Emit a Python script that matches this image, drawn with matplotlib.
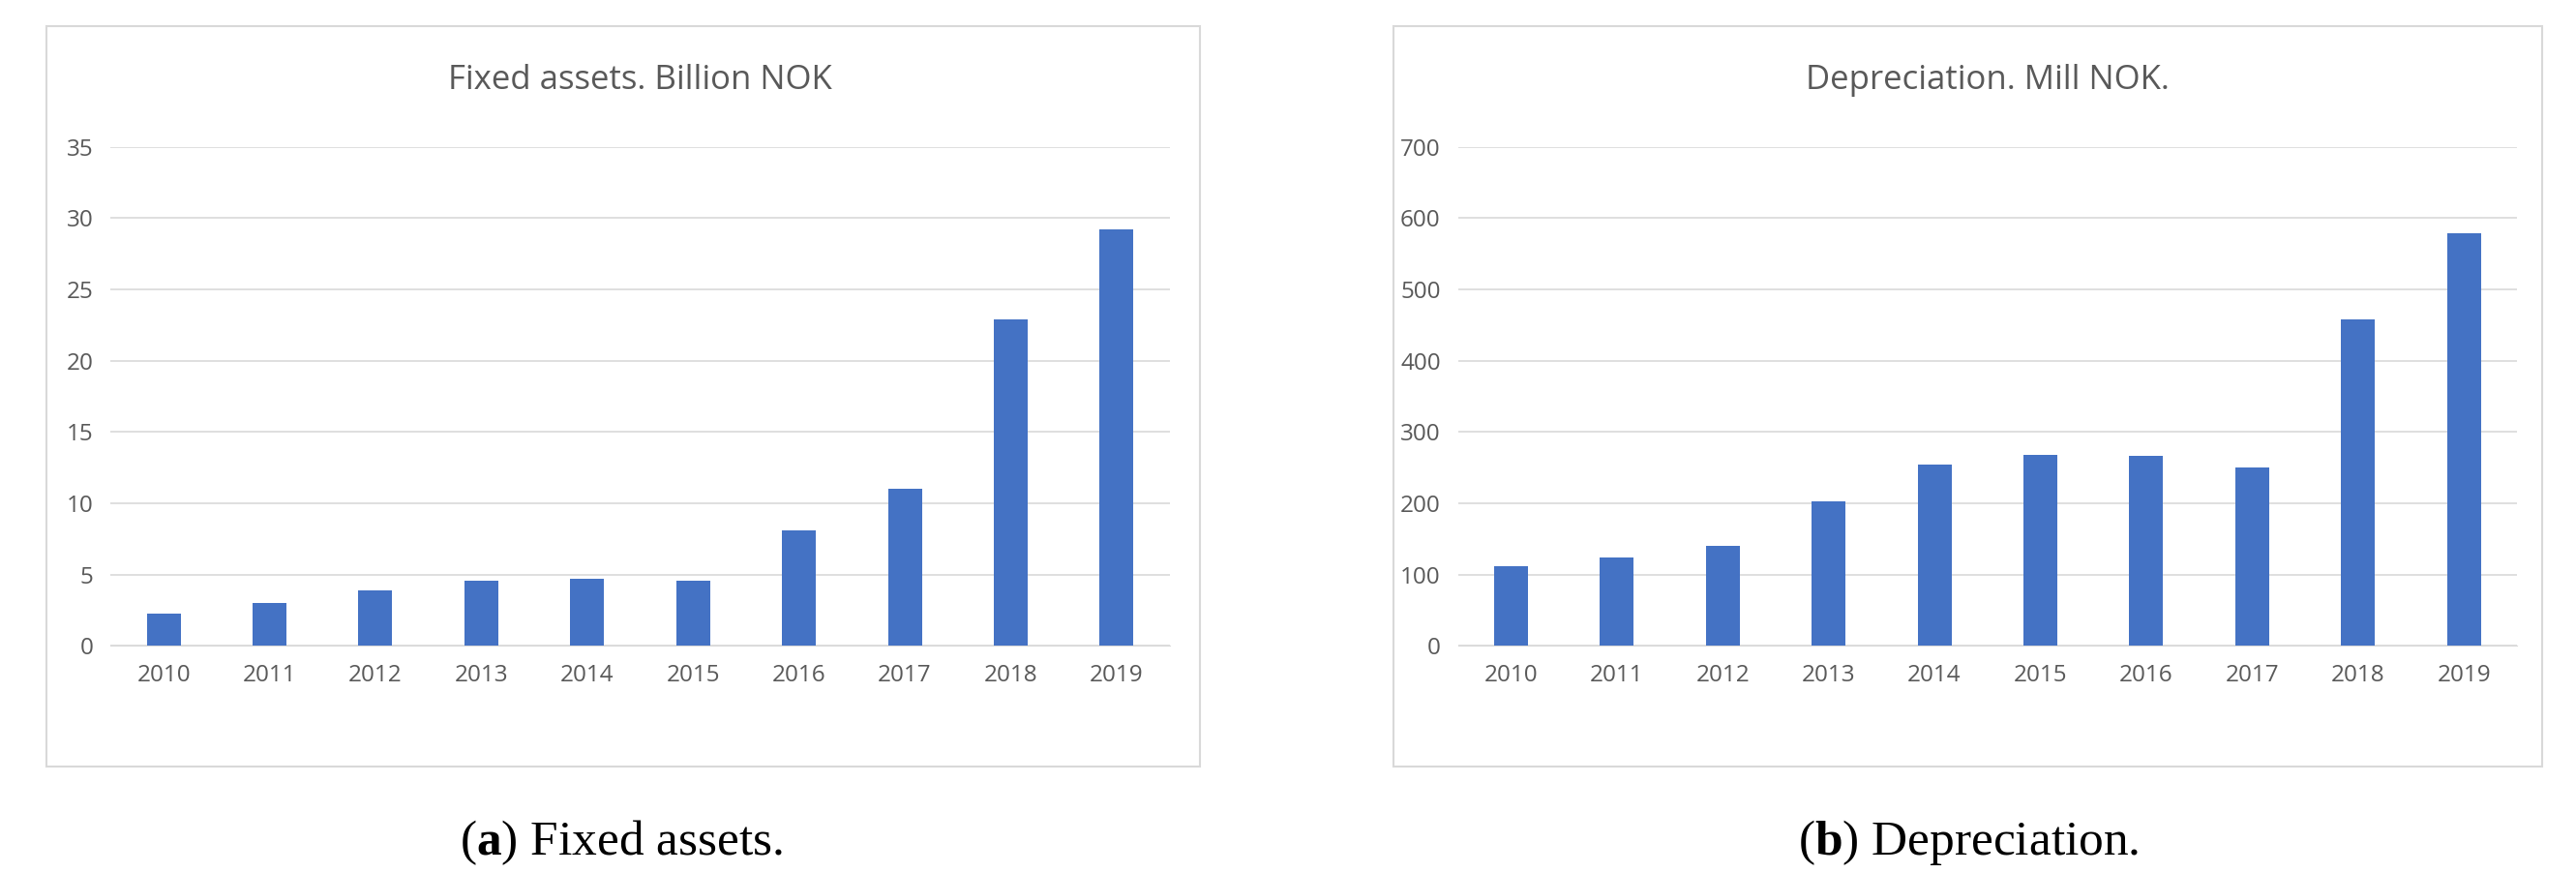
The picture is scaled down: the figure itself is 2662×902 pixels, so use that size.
import matplotlib
matplotlib.use("Agg")
import matplotlib.pyplot as plt
from matplotlib.patches import Rectangle

years = ["2010","2011","2012","2013","2014","2015","2016","2017","2018","2019"]
fixed_assets = [2.3, 3.0, 3.9, 4.6, 4.7, 4.6, 8.1, 11.0, 22.9, 29.2]
depreciation = [112, 124, 140, 203, 255, 268, 267, 250, 458, 579]

plt.rcParams['mathtext.fontset'] = 'custom'
plt.rcParams['mathtext.rm'] = 'Liberation Serif'
plt.rcParams['mathtext.bf'] = 'Liberation Serif:bold'

fig = plt.figure(figsize=(26.62, 9.02), dpi=100)
grey = "#595959"
blue = "#4472C4"

def panel(box, axpos, vals, ymax, step, title, caption, capx):
    fig.patches.append(Rectangle((box[0], box[1]), box[2], box[3], transform=fig.transFigure,
                                 fill=False, edgecolor="#D9D9D9", linewidth=1.5))
    ax = fig.add_axes(axpos)
    x = range(len(years))
    ax.bar(x, vals, width=0.32, color=blue, zorder=3)
    ax.set_xticks(list(x))
    ax.set_xticklabels(years)
    ax.set_xlim(-0.5, len(years) - 0.5)
    ax.set_ylim(0, ymax)
    ax.set_yticks(range(0, ymax + 1, step))
    ax.grid(axis="y", color="#D9D9D9", linewidth=1.2, zorder=0)
    for s in ["top", "right", "left"]:
        ax.spines[s].set_visible(False)
    ax.spines["bottom"].set_color("#D9D9D9")
    ax.tick_params(length=0, labelsize=17.5, colors=grey, pad=13)
    for t in ax.get_xticklabels() + ax.get_yticklabels():
        t.set_fontfamily("Open Sans")
    fig.text(axpos[0] + axpos[2] / 2, 0.908, title, ha="center", va="center",
             fontsize=25, color=grey, family="Open Sans")
    fig.text(capx, 0.035, caption, ha="center", va="center", fontsize=37,
             family="Liberation Serif", color="black")

panel((0.018, 0.122, 0.448, 0.848), [0.043, 0.260, 0.411, 0.572], fixed_assets, 35, 5,
      "Fixed assets. Billion NOK", r"($\mathbf{a}$) Fixed assets.", 0.241)
panel((0.541, 0.122, 0.446, 0.848), [0.566, 0.260, 0.411, 0.572], depreciation, 700, 100,
      "Depreciation. Mill NOK.", r"($\mathbf{b}$) Depreciation.", 0.764)

fig.savefig("out.png", dpi=100, facecolor="white")
